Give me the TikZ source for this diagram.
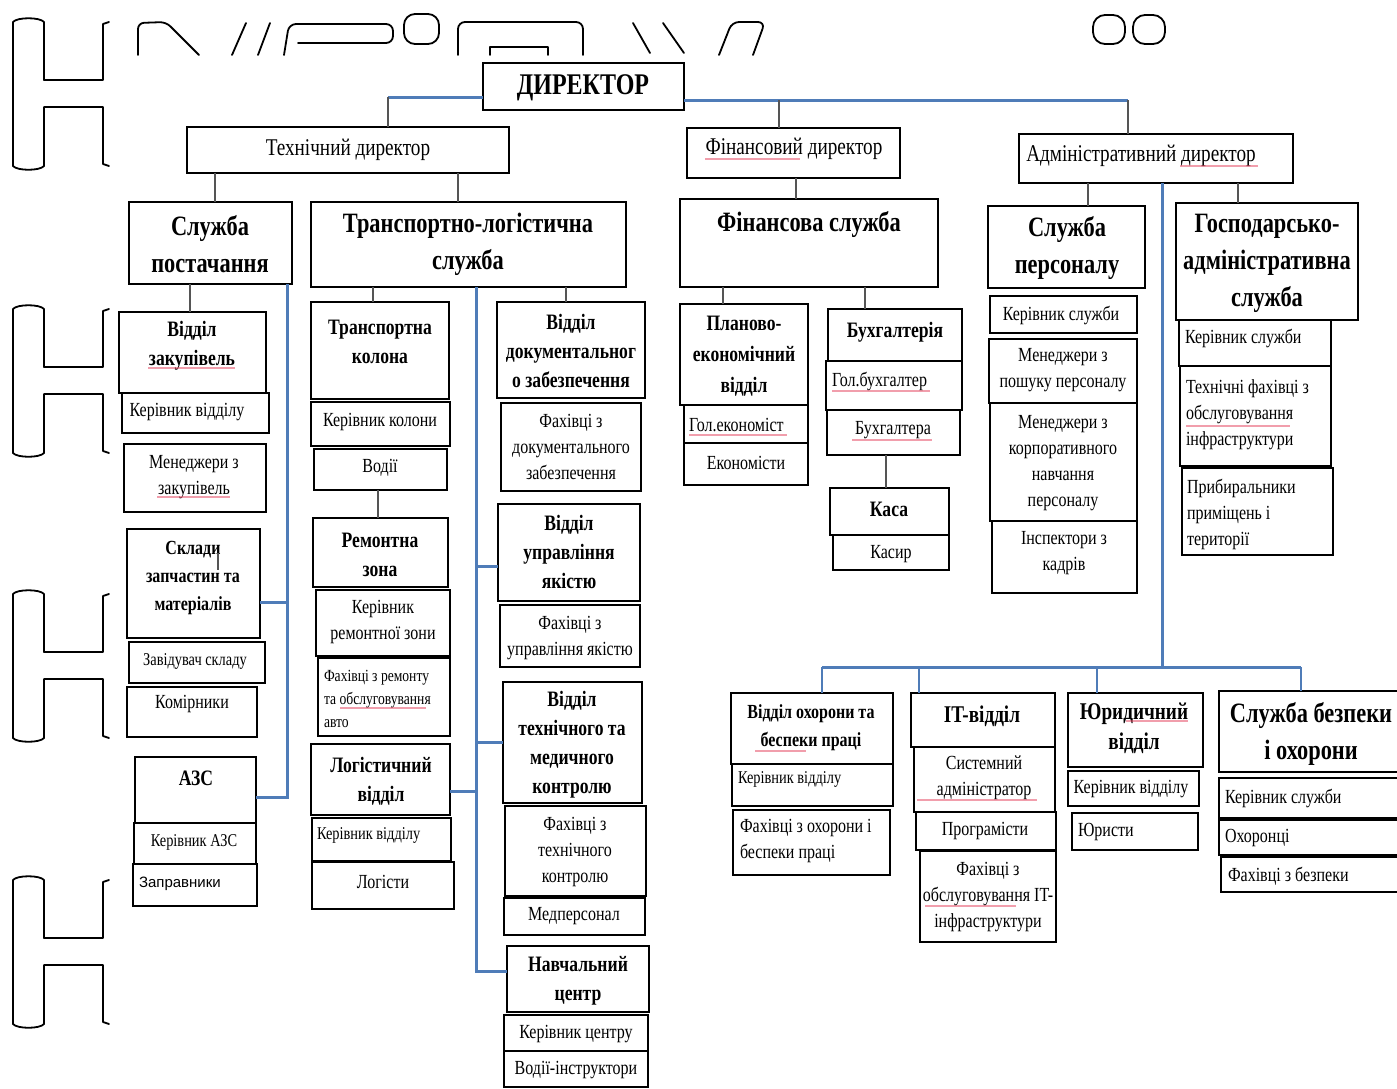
\documentclass[tikz,border=0pt]{standalone}
\usepackage{fontspec}
\setmainfont{Liberation Serif}[FakeStretch=0.8]
\setsansfont{Liberation Sans}
\tikzset{
 box/.style={draw=black, line width=1.3pt, inner sep=0pt, outer sep=0pt, fill=white},
 txt/.style={inner sep=0pt, outer sep=0pt, align=center, text=black},
 blueln/.style={draw={rgb,255:red,79;green,124;blue,184}, line width=3pt},
 grayln/.style={draw={rgb,255:red,85;green,85;blue,85}, line width=2.6pt},
 deco/.style={draw=black, line width=1.8pt, line cap=round, line join=round},
 spell/.style={draw={rgb,255:red,230;green,80;blue,105}, line width=2pt, opacity=.55},
 fDir/.style={font=\fontsize{30}{36}\selectfont\bfseries},
 fTop/.style={font=\fontsize{24}{30}\selectfont},
 fBig/.style={font=\fontsize{28}{37}\selectfont\bfseries},
 fMidB/.style={font=\fontsize{24}{30}\selectfont\bfseries},
 fMid/.style={font=\fontsize{22}{29}\selectfont\bfseries},
 fMidL/.style={font=\fontsize{22}{31}\selectfont\bfseries},
 fMidS/.style={font=\fontsize{20}{28}\selectfont\bfseries},
 fBody/.style={font=\fontsize{20}{26}\selectfont},
 fSmall/.style={font=\fontsize{18}{25}\selectfont},
 fXs/.style={font=\fontsize{17}{23}\selectfont},
 fSans/.style={font=\fontsize{15}{20}\selectfont\sffamily},
}
\newcommand\obox[9]{%
 \node[box, anchor=north west, minimum width={#4-#2}, minimum height={#5-#3}] (#1) at (#2,#3) {};
 \node[txt, #8] (#1-t) at (#6,#7) {#9};}
\newcommand\oboxl[9]{%
 \node[box, anchor=north west, minimum width={#4-#2}, minimum height={#5-#3}] (#1) at (#2,#3) {};
 \node[txt, #8, anchor=west, align=left] (#1-t) at (#6,#7) {#9};}
\newcommand\vcn[5]{%
 \coordinate (#1) at (#2,0);
 \draw[#3] (#1 |- #4) -- (#1 |- #5);}
\newcommand\hdeco[1]{%
 \draw[deco] (44,#1+62) -- (44,#1+4) .. controls (40,#1-1) and (17,#1-1) .. (13,#1+4)
   -- (13,#1+148) .. controls (17,#1+153) and (40,#1+153) .. (44,#1+148)
   -- (44,#1+89) -- (103,#1+89) -- (103,#1+146) -- (109,#1+148);
 \draw[deco] (44,#1+62) -- (103,#1+62) -- (103,#1+6) -- (109,#1+4);}
\begin{document}
\begin{tikzpicture}[x=1pt,y=-1pt]
\path[use as bounding box, fill=white] (0,0) rectangle (1397,1088);
\begin{scope}
\clip (0,0) rectangle (1397,1088);

% decorative strokes
\hdeco{18}\hdeco{305}\hdeco{590}\hdeco{876}
\draw[deco, rounded corners=6pt] (138,55) -- (138,23) -- (166,22) -- (199,55);
\draw[deco] (232,55) -- (246,23);
\draw[deco] (258,55) -- (270,23);
\draw[deco, rounded corners=7pt] (284,55) -- (289,24) -- (393,24) -- (393,43) -- (298,43);
\draw[deco, rounded corners=11pt] (404,14) rectangle (439,44);
\draw[deco, rounded corners=7pt] (458,55) -- (458,22) -- (583,22) -- (583,55);
\draw[deco] (490,55) -- (490,47) -- (548,47) -- (548,55);
\draw[deco] (633,23) -- (650,53);
\draw[deco] (663,23) -- (684,53);
\draw[deco, rounded corners=7pt] (719,55) -- (732,22) -- (765,22) -- (753,55);
\draw[deco, rounded corners=12pt] (1093,15) rectangle (1125,44);
\draw[deco, rounded corners=12pt] (1133,15) rectangle (1165,44);

% top
\obox{dir}{483}{63}{684}{110}{583}{88}{fDir}{ДИРЕКТОР}
\obox{tech}{187}{127}{509}{173}{348}{150}{fTop}{Технічний директор}
\obox{fin}{687}{128}{900}{178}{794}{149}{fTop}{Фінансовий директор}
\obox{adm}{1019}{134}{1293}{183}{1141}{156}{fTop}{Адміністративний директор}

% level 2
\obox{sp}{129}{202}{292}{284}{210}{244}{fBig}{Служба\\постачання}
\obox{tl}{311}{202}{626}{287}{468}{244}{fBig}{Транспортно-логістична\\служба}
\obox{fs}{680}{199}{938}{287}{809}{224}{fBig}{Фінансова служба}
\obox{sper}{988}{206}{1145}{288}{1067}{248}{fBig}{Служба\\персоналу}
\obox{gas}{1176}{203}{1358}{320}{1267}{263}{fBig}{Господарсько-\\адміністративна\\служба}

% supply column
\obox{zak}{119}{312}{266}{393}{192}{346}{fMid}{Відділ\\закупівель}
\obox{zak1}{122}{393}{269}{433}{187}{412}{fBody}{Керівник відділу}
\obox{zak2}{124}{444}{266}{512}{194}{477}{fBody}{Менеджери з\\закупівель}
\obox{skl}{127}{529}{260}{638}{193}{578}{fMidS}{Склади\\запчастин та\\матеріалів}
\obox{skl1}{129}{642}{265}{683}{195}{661}{fSmall}{Завідувач складу}
\obox{skl2}{127}{687}{257}{737}{192}{704}{fBody}{Комірники}
\obox{azs}{135}{757}{256}{823}{196}{778}{fMid}{АЗС}
\obox{azs1}{134}{823}{256}{864}{194}{842}{fSmall}{Керівник АЗС}
\oboxl{azs2}{133}{864}{257}{906}{139}{884}{fSans}{Заправники}

% transport column
\obox{tk}{311}{302}{449}{399}{380}{342}{fMid}{Транспортна\\колона}
\obox{tk1}{311}{402}{450}{446}{380}{422}{fBody}{Керівник колони}
\obox{tk2}{314}{449}{447}{490}{380}{468}{fBody}{Водії}
\obox{rz}{313}{518}{448}{587}{380}{555}{fMid}{Ремонтна\\зона}
\obox{rz1}{316}{590}{450}{656}{383}{622}{fBody}{Керівник\\ремонтної зони}
\oboxl{rz2}{318}{658}{450}{736}{324}{699}{fXs}{Фахівці з ремонту\\та обслуговування\\авто}
\obox{lv}{311}{744}{450}{815}{381}{781}{fMid}{Логістичний\\відділ}
\oboxl{lv1}{312}{818}{451}{861}{317}{835}{fSmall}{Керівник відділу}
\obox{lv2}{312}{862}{454}{909}{383}{882}{fBody}{Логісти}

\obox{dz}{497}{302}{645}{398}{571}{351}{fMid}{Відділ\\документальног\\о забезпечення}
\obox{dz1}{501}{403}{641}{491}{571}{447}{fBody}{Фахівці з\\документального\\забезпечення}
\obox{uy}{498}{504}{640}{601}{569}{552}{fMid}{Відділ\\управління\\якістю}
\obox{uy1}{500}{605}{640}{667}{570}{638}{fBody}{Фахівці з\\управління якістю}
\obox{tm}{503}{682}{642}{803}{572}{745}{fMid}{Відділ\\технічного та\\медичного\\контролю}
\obox{tm1}{505}{806}{646}{896}{575}{852}{fBody}{Фахівці з\\технічного\\контролю}
\obox{tm2}{504}{898}{645}{935}{574}{916}{fBody}{Медперсонал}
\obox{nc}{507}{946}{649}{1012}{578}{981}{fMid}{Навчальний\\центр}
\obox{nc1}{504}{1015}{648}{1051}{576}{1034}{fBody}{Керівник центру}
\obox{nc2}{504}{1051}{648}{1087}{576}{1070}{fBody}{Водії-інструктори}

% finance
\obox{pe}{680}{304}{808}{405}{744}{356}{fMidL}{Планово-\\економічний\\відділ}
\oboxl{pe1}{684}{405}{808}{443}{689}{425}{fBody}{Гол.економіст}
\obox{pe2}{684}{443}{808}{485}{746}{463}{fBody}{Економісти}
\obox{bh}{828}{309}{962}{361}{895}{332}{fMid}{Бухгалтерія}
\oboxl{bh1}{826}{361}{962}{410}{832}{381}{fBody}{Гол.бухгалтер}
\obox{bh2}{827}{410}{960}{455}{893}{430}{fBody}{Бухгалтера}
\obox{ks}{830}{488}{949}{535}{889}{509}{fMid}{Каса}
\obox{ks1}{833}{535}{949}{570}{891}{554}{fBody}{Касир}

% personnel
\obox{sp1}{990}{296}{1137}{333}{1061}{315}{fBody}{Керівник служби}
\obox{sp2}{989}{339}{1137}{403}{1063}{370}{fBody}{Менеджери з\\пошуку персоналу}
\obox{sp3}{990}{403}{1137}{521}{1063}{463}{fBody}{Менеджери з\\корпоративного\\навчання\\персоналу}
\obox{sp4}{992}{521}{1137}{593}{1064}{553}{fBody}{Інспектори з\\кадрів}

% admin-household
\oboxl{ga1}{1179}{320}{1331}{366}{1185}{338}{fBody}{Керівник служби}
\oboxl{ga2}{1180}{366}{1331}{466}{1186}{415}{fBody}{Технічні фахівці з\\обслуговування\\інфраструктури}
\oboxl{ga3}{1182}{468}{1333}{555}{1187}{514}{fBody}{Прибиральники\\приміщень і\\території}

% bottom row
\obox{oh}{731}{693}{893}{764}{811}{728}{fMidS}{Відділ охорони та\\беспеки праці}
\oboxl{oh1}{732}{764}{893}{806}{738}{779}{fSmall}{Керівник відділу}
\oboxl{oh2}{733}{810}{890}{875}{740}{841}{fBody}{Фахівці з охорони і\\беспеки праці}
\obox{it}{911}{693}{1055}{747}{982}{716}{fMidB}{IT-відділ}
\obox{it1}{914}{747}{1055}{812}{984}{778}{fBody}{Системний\\адміністратор}
\obox{it2}{916}{812}{1056}{850}{985}{831}{fBody}{Програмісти}
\obox{it3}{920}{851}{1056}{942}{988}{897}{fBody}{Фахівці з\\обслуговування IT-\\інфраструктури}
\obox{ur}{1068}{693}{1203}{767}{1134}{728}{fMidB}{Юридичний\\відділ}
\obox{ur1}{1068}{771}{1199}{806}{1131}{789}{fBody}{Керівник відділу}
\oboxl{ur2}{1072}{813}{1198}{850}{1078}{832}{fBody}{Юристи}
\obox{sb}{1219}{691}{1400}{772}{1311}{734}{fBig}{Служба безпеки\\і охорони}
\oboxl{sb1}{1219}{778}{1400}{818}{1225}{798}{fBody}{Керівник служби}
\oboxl{sb2}{1219}{820}{1400}{855}{1225}{838}{fBody}{Охоронці}
\oboxl{sb3}{1221}{857}{1400}{892}{1228}{876}{fBody}{Фахівці з безпеки}

% connectors: director
\coordinate (jd1) at (388,97);
\draw[blueln] (dir.west |- jd1) -- (jd1);
\draw[grayln] (jd1) -- (jd1 |- tech.north);
\coordinate (jd2) at (1128,100);
\draw[blueln] (dir.east |- jd2) -- (jd2);
\draw[grayln] (jd2) -- (jd2 |- adm.north);
\coordinate (jd3) at (779,100);
\draw[grayln] (jd3) -- (jd3 |- fin.north);

% directors to services
\vcn{v1}{215}{grayln}{tech.south}{sp.north}
\vcn{v2}{458}{grayln}{tech.south}{tl.north}
\vcn{v3}{796}{grayln}{fin.south}{fs.north}
\vcn{v4}{1088}{grayln}{adm.south}{sper.north}
\vcn{v5}{1238}{grayln}{adm.south}{gas.north}

% supply
\vcn{v6}{190}{grayln}{sp.south}{zak.north}
\coordinate (s1) at (287,797);
\draw[blueln] (s1 |- sp.south) -- (s1) -- (s1 -| azs.east);
\coordinate (s2) at (287,602);
\draw[blueln] (s2) -- (s2 -| skl.east);
\draw[grayln, line width=1.5pt] (218,553) -- (218,570);

% transport
\vcn{v7}{373}{grayln}{tl.south}{tk.north}
\vcn{v8}{566}{grayln}{tl.south}{dz.north}
\vcn{v9}{378}{grayln}{tk2.south}{rz.north}
\coordinate (t2) at (476,971);
\draw[blueln] (t2 |- tl.south) -- (t2) -- (t2 -| nc.west);
\coordinate (t3) at (476,566);
\draw[blueln] (t3) -- (t3 -| uy.west);
\coordinate (t4) at (476,742);
\draw[blueln] (t4) -- (t4 -| tm.west);
\coordinate (t5) at (476,791);
\draw[blueln] (t5) -- (t5 -| lv.east);

% finance
\vcn{v10}{723}{grayln}{fs.south}{pe.north}
\vcn{v11}{865}{grayln}{fs.south}{bh.north}
\vcn{v12}{886}{grayln}{bh2.south}{ks.north}

% admin bottom branch
\coordinate (ja) at (1162,667);
\draw[blueln] (ja |- adm.south) -- (ja);
\coordinate (jl) at (822,667);
\coordinate (jr) at (1301,667);
\draw[blueln] (jl) -- (jr);
\draw[blueln, line width=2.4pt] (jl) -- (jl |- oh.north);
\coordinate (jb) at (919,667);
\draw[blueln, line width=2.4pt] (jb) -- (jb |- it.north);
\coordinate (jc) at (1097,667);
\draw[blueln, line width=2.4pt] (jc) -- (jc |- ur.north);
\draw[blueln, line width=2.4pt] (jr) -- (jr |- sb.north);

% spell-check underlines
\draw[spell] (148,368) -- (235,368);
\draw[spell] (157,497) -- (230,497);
\draw[spell] (705,159) -- (800,159);
\draw[spell] (1180,166) -- (1258,166);
\draw[spell] (1126,721) -- (1188,721);
\draw[spell] (755,751) -- (806,751);
\draw[spell] (1186,426) -- (1290,426);
\draw[spell] (917,800) -- (1037,800);
\draw[spell] (925,906) -- (1016,906);
\draw[spell] (340,708) -- (426,708);
\draw[spell] (689,435) -- (787,435);
\draw[spell] (832,391) -- (930,391);
\draw[spell] (852,440) -- (932,440);
\end{scope}
\end{tikzpicture}
\end{document}
